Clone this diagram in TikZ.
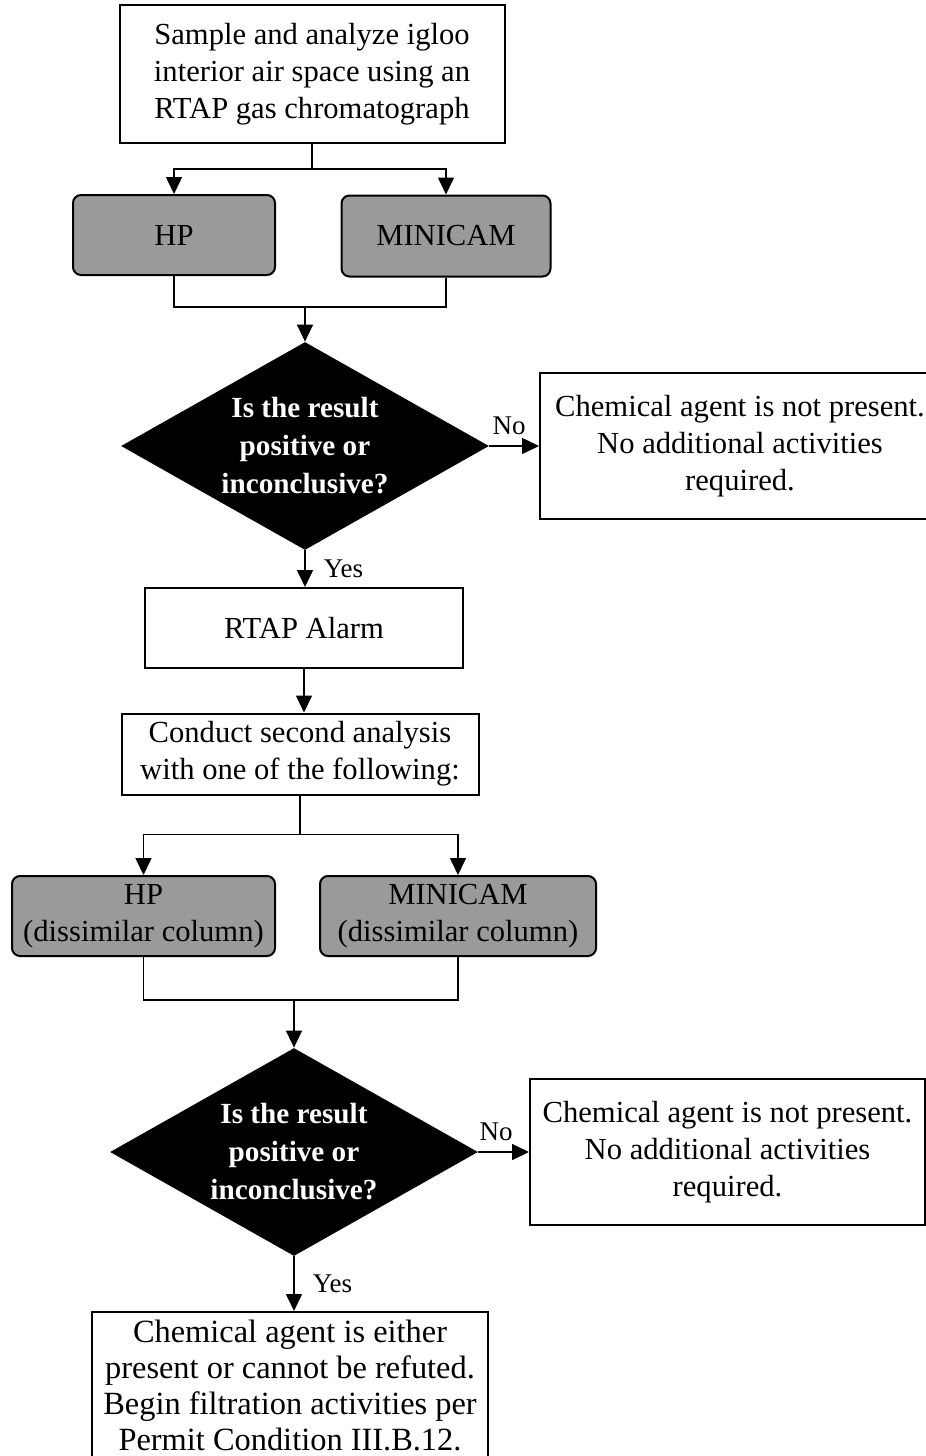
\documentclass[tikz,border=0pt]{standalone}
\usepackage{fontspec}
\setmainfont{Liberation Serif}
\usetikzlibrary{shapes.geometric,arrows.meta}
\definecolor{halftone}{HTML}{9A9A9A}

\begin{document}
\begin{tikzpicture}[x=0.5pt, y=-0.5pt,
    box/.style={draw, line width=1pt, align=center, inner sep=0pt,
                font=\fontsize{15.3}{18.5}\selectfont},
    gc/.style={box, rounded corners=4pt, fill=halftone},
    dec/.style={diamond, fill=black, text=white, align=center, inner sep=0pt,
                aspect=1.77, minimum width=184pt, minimum height=104pt,
                font=\fontsize{14.6}{19}\selectfont\bfseries},
    ln/.style={line width=0.8pt},
    arr/.style={ln, -{Triangle[length=8.5pt,width=8pt]}},
    w/.style={font=\fontsize{13.5}{15}\selectfont, inner sep=1pt}]
  \useasboundingbox (0,0) rectangle (926,1456);
  \clip (0,0) rectangle (926,1456);

  \node[box, minimum width=192.5pt, minimum height=69pt] (sample) at (312,74)
    {Sample and analyze igloo\\interior air space using an\\RTAP gas chromatograph};
  \node[gc, minimum width=101pt, minimum height=40pt] (hp) at (174,235) {HP};
  \node[gc, minimum width=104.5pt, minimum height=40.5pt] (mc) at (446,236) {MINICAM};
  \node[dec] (q1) at (305,446) {Is the result\\positive or\\inconclusive?};
  \node[box, minimum width=200pt, minimum height=73pt] (no1) at (740,446)
    {Chemical agent is not present.\\No additional activities\\required.};
  \node[box, minimum width=159pt, minimum height=40pt] (alarm) at (304,628) {RTAP Alarm};
  \node[box, minimum width=178.5pt, minimum height=40.5pt] (conduct) at (300,754)
    {Conduct second analysis\\with one of the following:};
  \node[gc, minimum width=131.5pt, minimum height=40pt] (hp2) at (143.5,916)
    {HP\\(dissimilar column)};
  \node[gc, minimum width=138pt, minimum height=40pt] (mc2) at (458,916)
    {MINICAM\\(dissimilar column)};
  \node[dec] (q2) at (294,1152) {Is the result\\positive or\\inconclusive?};
  \node[box, minimum width=197.5pt, minimum height=73pt] (no2) at (727.5,1152)
    {Chemical agent is not present.\\No additional activities\\required.};
  \node[box, font=\fontsize{16.2}{18}\selectfont, anchor=north, text height=69pt,
        text depth=12pt, minimum width=198pt] (final) at (290,1311)
    {Chemical agent is either\\present or cannot be refuted.\\Begin filtration activities per\\Permit Condition III.B.12.};

  \draw[ln] (sample.south) -- ++(0,25) coordinate (s1);
  \draw[arr] (s1) -| (hp.north);
  \draw[arr] (s1) -| (mc.north);
  \coordinate (m1) at (305,307);
  \draw[ln] (hp.south) |- (m1);
  \draw[ln] (mc.south) |- (m1);
  \draw[arr] (m1) -- (q1.north);
  \draw[arr] (q1.east) -- (no1.west) node[w, pos=0.4, above=4pt] {No};
  \draw[arr] (q1.south) -- (q1.south |- alarm.north) node[w, midway, right=8pt] {Yes};
  \draw[arr] (alarm.south) -- (alarm.south |- conduct.north);

  \draw[ln] (conduct.south) -- ++(0,39) coordinate (s2);
  \draw[arr] (s2) -| (hp2.north);
  \draw[arr] (s2) -| (mc2.north);
  \coordinate (m2) at (294,1000);
  \draw[ln] (hp2.south) |- (m2);
  \draw[ln] (mc2.south) |- (m2);
  \draw[arr] (m2) -- (q2.north);
  \draw[arr] (q2.east) -- (no2.west) node[w, pos=0.35, above=4pt] {No};
  \draw[arr] (q2.south) -- (q2.south |- final.north) node[w, midway, right=8pt] {Yes};
\end{tikzpicture}
\end{document}
